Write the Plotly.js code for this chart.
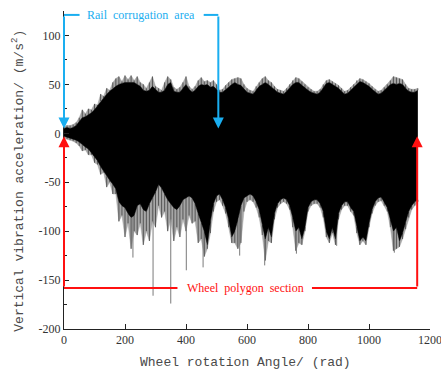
<!DOCTYPE html>
<html>
<head>
<meta charset="utf-8">
<script src="https://cdn.plot.ly/plotly-3.0.1.min.js"></script>
<style>html,body{margin:0;padding:0;background:#fff;}#chart{width:441px;height:374px;}</style>
</head>
<body>
<div id="chart"></div>
<script>
const angle = [0,10,20,30,40,50,60,70,80,90,100,110,120,130,140,150,160,170,180,190,200,210,220,230,240,250,260,270,280,290,300,310,320,330,340,350,360,370,380,390,400,410,420,430,440,450,460,470,480,490,500,510,520,530,540,550,560,570,580,590,600,610,620,630,640,650,660,670,680,690,700,710,720,730,740,750,760,770,780,790,800,810,820,830,840,850,860,870,880,890,900,910,920,930,940,950,960,970,980,990,1000,1010,1020,1030,1040,1050,1060,1070,1080,1090,1100,1110,1120,1130,1140,1150,1160];
const hiCore = [5,6,5,6,8,12,16,17,19,21,24,28,33,36,40,43,46,48,50,51,52,52,52,52,50,48,44,43,44,48,45,42,42,44,50,52,43,42,42,46,50,45,42,44,48,50,49,50,47,48,45,42,42,45,48,50,52,50,49,46,42,41,40,44,48,50,52,50,47,44,42,41,40,43,47,50,52,52,49,46,44,42,41,40,42,47,51,52,50,48,46,43,40,41,44,47,51,53,52,50,48,45,42,40,41,44,47,50,51,50,51,50,46,43,42,42,44];
const hiOuter = [7,8,8,9,11,16,24,20,25,24,30,29,40,38,46,44,52,56,58,53,59,55,59,54,58,52,50,46,52,58,48,46,44,52,58,55,47,45,47,52,58,48,45,48,54,57,53,54,52,54,50,44,45,49,52,55,56,57,56,50,46,44,43,48,52,56,58,54,52,48,45,44,43,46,50,54,57,56,53,50,47,45,43,43,45,50,54,55,53,51,49,46,43,44,47,50,54,56,55,53,51,48,45,43,44,47,50,54,58,57,56,55,50,46,45,45,46];
const loCore = [-3,-4,-5,-6,-7,-9,-12,-14,-16,-20,-24,-28,-34,-39,-44,-48,-52,-57,-70,-74,-76,-82,-86,-84,-74,-72,-78,-80,-72,-66,-60,-52,-56,-62,-68,-72,-76,-78,-74,-68,-66,-64,-66,-72,-82,-92,-100,-114,-90,-72,-64,-62,-68,-76,-88,-106,-100,-88,-74,-66,-64,-62,-64,-70,-78,-94,-108,-96,-106,-82,-72,-68,-66,-68,-74,-86,-100,-96,-108,-96,-76,-70,-68,-68,-72,-80,-100,-108,-96,-108,-82,-74,-70,-70,-76,-80,-96,-110,-106,-110,-92,-78,-70,-66,-65,-70,-76,-88,-100,-96,-110,-102,-92,-80,-74,-70,-68];
const loOuter = [-5,-6,-7,-8,-10,-13,-18,-17,-22,-22,-30,-32,-42,-40,-55,-50,-62,-62,-90,-84,-106,-92,-118,-100,-104,-92,-114,-100,-110,-90,-96,-74,-86,-80,-100,-88,-110,-96,-106,-88,-100,-84,-92,-90,-112,-108,-126,-118,-102,-80,-70,-68,-74,-82,-96,-112,-112,-118,-112,-80,-70,-68,-70,-76,-86,-104,-130,-110,-112,-88,-76,-72,-70,-72,-78,-96,-120,-112,-114,-100,-80,-74,-72,-72,-76,-86,-106,-112,-102,-114,-88,-78,-74,-74,-80,-84,-102,-114,-110,-114,-96,-82,-74,-70,-69,-74,-80,-96,-120,-118,-116,-108,-98,-86,-78,-74,-70];
// Isolated deep spikes
const spikeAngle = [226, 292, 350, 401, 456, 576, 658, 762, 894, 1083];
const spikeMin = [-127, -166, -174, -140, -137, -125, -135, -123, -115, -122];

const xTicks = [0, 200, 400, 600, 800, 1000, 1200];
const yTicks = [-200, -150, -100, -50, 0, 50, 100];

// streak segments (fringe texture) built from the envelope arrays
const spX = [], spY = [];
spikeAngle.forEach((a, i) => { spX.push(a, a, null); spY.push(-60, spikeMin[i], null); });
const stX = [], stY = [];
angle.forEach((a, i) => {
  stX.push(a, a, null); stY.push(loCore[i], loOuter[i], null);
  stX.push(a, a, null); stY.push(hiCore[i], hiOuter[i], null);
});

const traces = [
  {x: angle, y: loOuter, mode: 'lines', line: {width: 0.5, color: '#a6a6a6'}, hoverinfo: 'skip', showlegend: false},
  {x: angle, y: hiOuter, mode: 'lines', fill: 'tonexty', fillcolor: '#a6a6a6', line: {width: 0.5, color: '#a6a6a6'}, hoverinfo: 'skip', showlegend: false},
  {x: stX, y: stY, mode: 'lines', line: {width: 1, color: '#555'}, hoverinfo: 'skip', showlegend: false},
  {x: spX, y: spY, mode: 'lines', line: {width: 1, color: '#7a7a7a'}, hoverinfo: 'skip', showlegend: false},
  {x: angle, y: loCore, mode: 'lines', line: {width: 0.5, color: '#000'}, hoverinfo: 'skip', showlegend: false},
  {x: angle, y: hiCore, mode: 'lines', fill: 'tonexty', fillcolor: '#000', line: {width: 0.5, color: '#000'}, hoverinfo: 'skip', showlegend: false}
];

const XR = [0, 1200], YR = [-200, 125];
const px = v => (v - XR[0]) / (XR[1] - XR[0]);
const py = v => (v - YR[0]) / (YR[1] - YR[0]);
const blue = '#1aaef0', red = '#ff1010';
const seg = (x0, y0, x1, y1, c) => ({type: 'line', xref: 'paper', yref: 'paper', x0: px(x0), y0: py(y0), x1: px(x1), y1: py(y1), line: {color: c, width: 2}});
const arrow = (x, yTip, yStart, c) => ({x: x, y: yTip, ax: x, ay: yStart, xref: 'x', yref: 'y', axref: 'x', ayref: 'y', text: '', showarrow: true, arrowhead: 2, arrowsize: 1.1, arrowwidth: 2, arrowcolor: c, standoff: 0, startstandoff: 0});

const layout = {
  width: 441, height: 374,
  margin: {l: 64, r: 11, t: 11, b: 45},
  paper_bgcolor: '#fff', plot_bgcolor: '#fff',
  showlegend: false,
  xaxis: {range: XR, tickvals: xTicks, ticktext: xTicks.map(String), ticks: 'inside', ticklen: 5, tickcolor: '#222', showline: true, linecolor: '#222', linewidth: 1, showgrid: false, zeroline: false,
    ticklabeloverflow: 'allow',
    tickfont: {family: 'Liberation Serif', size: 12, color: '#333'}, fixedrange: true},
  yaxis: {range: YR, tickvals: yTicks, ticktext: yTicks.map(String), ticks: 'inside', ticklen: 5, tickcolor: '#222', showline: true, linecolor: '#222', linewidth: 1, showgrid: false, zeroline: false,
    minor: {dtick: 25, ticks: 'inside', ticklen: 3, tickcolor: '#222', showgrid: false},
    tickfont: {family: 'Liberation Serif', size: 12, color: '#333'}, fixedrange: true},
  shapes: [
    seg(0, 121, 51, 121, blue), seg(458, 121, 506, 121, blue),
    seg(0, -158, 372, -158, red), seg(813, -158, 1158, -158, red)
  ],
  annotations: [
    arrow(0, 5, 121, blue), arrow(506, 5, 121, blue),
    arrow(0, -3, -158, red), arrow(1158, -3, -158, red),
    {x: 251, y: 121, xref: 'x', yref: 'y', text: 'Rail  corrugation  area', showarrow: false, font: {family: 'Liberation Serif', size: 12, color: blue}},
    {x: 596, y: -158, xref: 'x', yref: 'y', text: 'Wheel  polygon  section', showarrow: false, font: {family: 'Liberation Serif', size: 12, color: red}},
    {x: 0.495, y: -0.105, xref: 'paper', yref: 'paper', xanchor: 'center', yanchor: 'middle', text: 'Wheel rotation Angle/ (rad)', showarrow: false, font: {family: 'Liberation Mono', size: 13, color: '#4a4a4a'}},
    {x: -0.126, y: 0.466, xref: 'paper', yref: 'paper', xanchor: 'center', yanchor: 'middle', textangle: -90, text: 'Vertical vibration acceleration/ (m/s<sup>2</sup>)', showarrow: false, font: {family: 'Liberation Mono', size: 13, color: '#4a4a4a'}}
  ]
};

Plotly.newPlot('chart', traces, layout, {staticPlot: true, displayModeBar: false});
</script>
</body>
</html>
